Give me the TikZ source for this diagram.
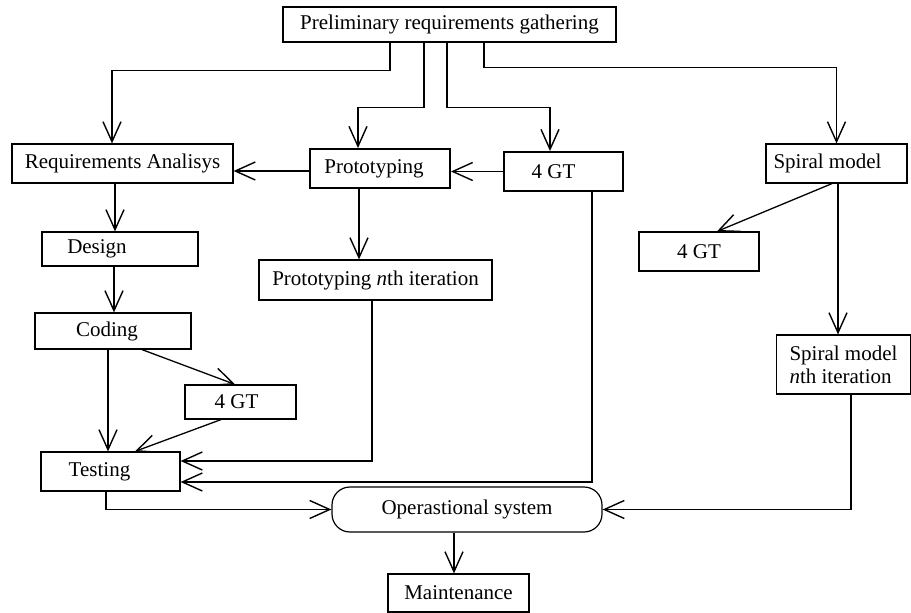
\documentclass[tikz,border=0pt]{standalone}
\usepackage{fontspec}
\setmainfont{Liberation Serif}
\usetikzlibrary{arrows.meta}
\begin{document}
\begin{tikzpicture}[x=1pt,y=-1pt,
  box/.style={draw,line width=1.2pt,inner sep=0pt,font=\fontsize{21}{23}\selectfont},
  boldbox/.style={box,line width=1.9pt},
  arr/.style={line width=1.3pt,-{Straight Barb[length=20pt,width=18pt,line width=1.4pt]}}]
\fill[white] (0,0) rectangle (911,613);
\useasboundingbox (0,0) rectangle (911,613);

\node[box,minimum width=333pt,minimum height=35pt] (pre) at (449.5,24.5) {Preliminary requirements gathering};
\node[box,minimum width=221pt,minimum height=39pt] (req) at (122.5,163.5) {Requirements Analisys};
\node[boldbox,minimum width=140pt,minimum height=39pt] (proto) at (380,168.5) {Prototyping\hspace*{12pt}};
\node[boldbox,minimum width=119pt,minimum height=39pt] (gt1) at (563.5,171.5) {4 GT\hspace*{20pt}};
\node[box,minimum width=141pt,minimum height=39pt] (spiral) at (836.5,163.5) {Spiral model\hspace*{18pt}};
\node[box,minimum width=156pt,minimum height=34pt] (design) at (120,249) {Design\hspace*{46pt}};
\node[box,minimum width=233pt,minimum height=40pt] (protn) at (375.5,280) {Prototyping \textit{n}th iteration};
\node[box,minimum width=120pt,minimum height=39pt] (gt3) at (699,251.5) {4 GT};
\node[box,minimum width=156pt,minimum height=36pt] (coding) at (113,331) {Coding\hspace*{12pt}};
\node[box,minimum width=111pt,minimum height=34pt] (gt2) at (240.5,402) {4 GT\hspace*{8pt}};
\node[box,minimum width=134pt,minimum height=59pt,align=left] (spiraln) at (843.5,364.5) {Spiral model\\\textit{n}th iteration};
\node[box,minimum width=139pt,minimum height=39pt] (testing) at (110.5,471.5) {Testing\hspace*{22pt}};
\node[box,rounded corners=18pt,minimum width=270pt,minimum height=45pt] (op) at (467,509.5) {Operastional system};
\node[box,minimum width=141pt,minimum height=38pt] (maint) at (458.5,593) {Maintenance};

\draw[arr] ([xshift=-59.5pt]pre.south) -- ++(0,28) -| ([xshift=-10.5pt]req.north);
\draw[arr] ([xshift=-25.5pt]pre.south) -- ++(0,65) -| ([xshift=-22pt]proto.north);
\draw[arr] ([xshift=-2.5pt]pre.south) -- ++(0,65) -| ([xshift=-13.5pt]gt1.north);
\draw[arr] ([xshift=34.5pt]pre.south) -- ++(0,25) -| (spiral.north);

\draw[arr] ([yshift=-2.5pt]proto.west) -- ([yshift=-2.5pt]proto.west -| req.east);
\draw[arr] (gt1.west) -- (gt1.west -| proto.east);
\draw[arr] ([xshift=-7.5pt]req.south) -- ([xshift=-7.5pt]req.south |- design.north);
\draw[arr] ([xshift=-6pt]design.south) -- ([xshift=-6pt]design.south |- coding.north);
\draw[arr] ([xshift=-21pt]proto.south) -- ([xshift=-21pt]proto.south |- protn.north);
\draw[arr] ([xshift=29pt]coding.south) -- ([xshift=-5.5pt]gt2.north);
\draw[arr] ([xshift=-5pt]coding.south) -- ([xshift=-5pt]coding.south |- testing.north);
\draw[arr] ([xshift=-19.5pt]gt2.south) -- ([xshift=24.5pt]testing.north);
\draw[arr] ([xshift=-3.5pt]protn.south) |- ([yshift=10.5pt]testing.east);
\draw[arr] ([xshift=28.5pt]gt1.south) |- ([yshift=-10.5pt]testing.east);
\draw[arr] ([xshift=-4.5pt]testing.south) |- (op.west);
\draw[arr] ([xshift=-4.5pt]spiral.south) -- ([xshift=18pt]gt3.north);
\draw[arr] ([xshift=1.5pt]spiral.south) -- ([xshift=1.5pt]spiral.south |- spiraln.north);
\draw[arr] ([xshift=7.5pt]spiraln.south) |- (op.east);
\draw[arr] ([xshift=-13pt]op.south) -- ([xshift=-13pt]op.south |- maint.north);
\end{tikzpicture}
\end{document}
